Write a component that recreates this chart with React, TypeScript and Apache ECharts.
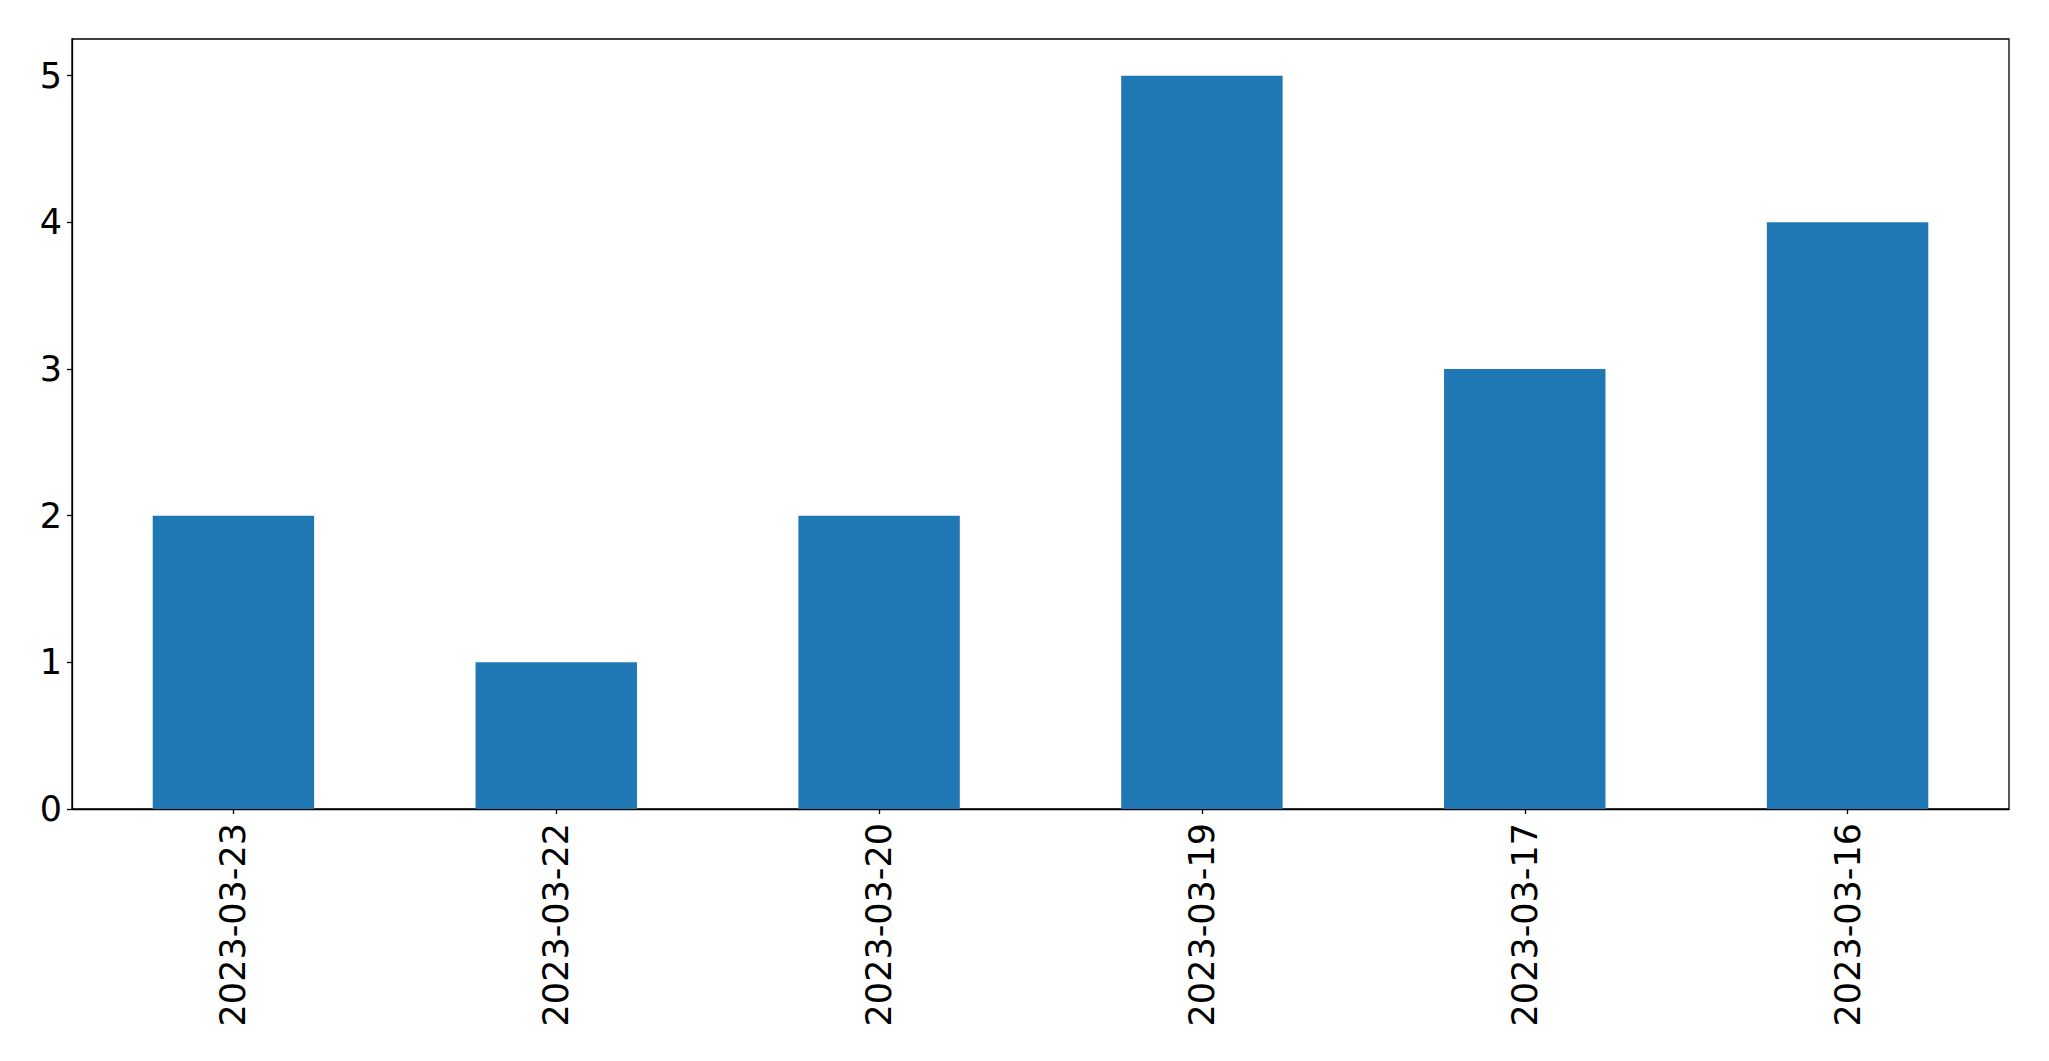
import React, { useEffect, useRef } from "react";
import * as echarts from "echarts";

const categories = ["2023-03-23", "2023-03-22", "2023-03-20", "2023-03-19", "2023-03-17", "2023-03-16"];
const values = [2, 1, 2, 5, 3, 4];
const yTicks = [0, 1, 2, 3, 4, 5];

export default function App() {
  const ref = useRef<HTMLDivElement>(null);
  useEffect(() => {
    document.body.style.margin = "0";
    const chart = echarts.init(ref.current!, null, { renderer: "svg" });
    const font = "DejaVu Sans";
    chart.setOption({
      animation: false,
      backgroundColor: "#ffffff",
      grid: {
        left: 72,
        top: 39,
        right: 40,
        bottom: 252,
        show: true,
        borderColor: "#000000",
        borderWidth: 1.3,
        containLabel: false,
      },
      xAxis: {
        type: "category",
        data: categories,
        boundaryGap: true,
        axisLine: { show: true, lineStyle: { color: "#000", width: 1.3 } },
        axisTick: { show: true, alignWithLabel: true, length: 5, lineStyle: { color: "#000", width: 1.3 } },
        axisLabel: {
          rotate: 90,
          margin: 14,
          color: "#000",
          fontSize: 35,
          fontFamily: font,
        },
        splitLine: { show: false },
      },
      yAxis: {
        type: "value",
        min: 0,
        max: 5.25,
        interval: 1,
        axisLine: { show: true, lineStyle: { color: "#000", width: 1.3 } },
        axisTick: { show: true, length: 5, customValues: yTicks, lineStyle: { color: "#000", width: 1.3 } },
        axisLabel: {
          customValues: yTicks,
          margin: 10,
          color: "#000",
          fontSize: 35,
          fontFamily: font,
        },
        splitLine: { show: false },
      },
      series: [
        {
          type: "bar",
          data: values,
          barWidth: "50%",
          itemStyle: { color: "#1f77b4" },
        },
      ],
    });
    return () => chart.dispose();
  }, []);
  return <div ref={ref} style={{ position: "absolute", left: 0, top: 0, width: 2049, height: 1061 }} />;
}
